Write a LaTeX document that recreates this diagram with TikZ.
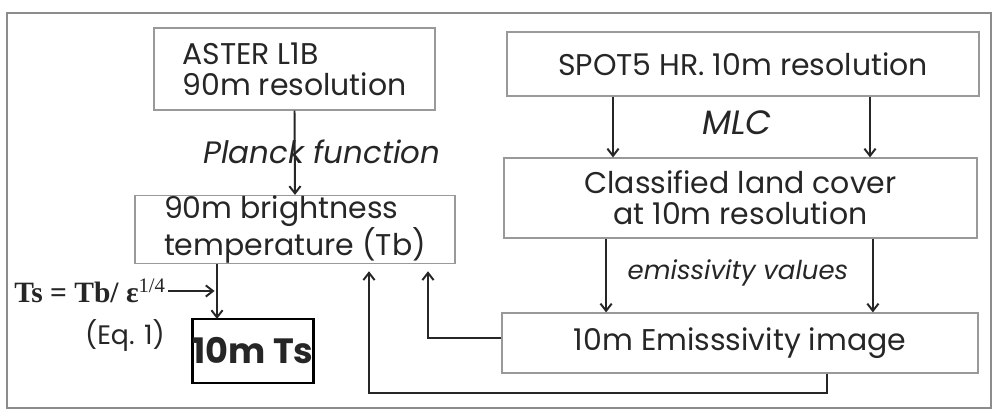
\documentclass[tikz,border=0pt]{standalone}
\usepackage{fontspec}
\setmainfont{Poppins}
\newfontfamily\serif{Liberation Serif}
\usetikzlibrary{arrows.meta}

\tikzset{
  box/.style={draw=black!40, line width=0.8pt, inner sep=0pt,
    font=\fontsize{21.3}{22}\selectfont, text=black!85},
  link/.style={draw=black!85, line width=1.4pt,
    -{Straight Barb[length=1.8mm, width=2.8mm]}},
  lbl/.style={font=\fontsize{22}{23}\selectfont\itshape, text=black!85}
}

\begin{document}
\begin{tikzpicture}[x=0.25mm, y=-0.25mm]
\useasboundingbox (0,0) rectangle (1000,418);

% Frame
\draw[black!45, line width=0.8pt] (7,13) rectangle (991,408);

% Left column
\node[box, align=left, minimum width=70.25mm, minimum height=20.5mm] (aster) at (294.5,69)
     {ASTER L1B\\90m resolution};
\node[box, align=left, minimum width=80mm, minimum height=16.75mm] (bright) at (295,229.5)
     {90m brightness\\temperature (Tb)};
\node[box, draw=black, line width=2pt, minimum width=30mm, minimum height=16mm,
      font=\fontsize{25}{26}\selectfont\bfseries] (ts) at (253,351) {10m Ts};
\node[lbl] (planck) at (322,152) {Planck function};
\coordinate (tsin) at (217,319);

\draw[link] (aster.south) -- (bright.north);
\draw[link] (bright.south -| tsin) -- (tsin);

% Equation
\node[font=\serif\fontsize{21}{22}\selectfont\bfseries, text=black!85, inner sep=0pt]
     (eq) at (90,291) {Ts = Tb/ ε\textsuperscript{\mdseries 1/4}};
\node[font=\fontsize{19}{20}\selectfont, text=black!85] (eqno) at (125,336) {(Eq. 1)};
\draw[link] ([xshift=0.5mm]eq.east) -- ([xshift=-0.6mm]eq.east -| tsin);

% Right column
\node[box, minimum width=118mm, minimum height=16mm] (spot) at (743,64)
     {SPOT5 HR. 10m resolution};
\node[box, align=center, minimum width=118.25mm, minimum height=20mm] (classif) at (740.5,198)
     {Classified land cover\\at 10m resolution};
\node[box, minimum width=119mm, minimum height=15mm] (emis) at (740,343)
     {10m Emisssivity image};
\node[lbl, font=\fontsize{24}{25}\selectfont\itshape] (mlc) at (737,123) {MLC};
\node[lbl, font=\fontsize{18.5}{19}\selectfont\itshape] (emval) at (738,273) {emissivity values};

\draw[link] ([xshift=-32.5mm]spot.south) -- ([xshift=-32.5mm]spot.south |- classif.north);
\draw[link] ([xshift=31.75mm]spot.south) -- ([xshift=31.75mm]spot.south |- classif.north);
\draw[link] ([xshift=-33.6mm]classif.south) -- ([xshift=-33.6mm]classif.south |- emis.north);
\draw[link] ([xshift=33.1mm]classif.south) -- ([xshift=33.1mm]classif.south |- emis.north);

% Feedback to Tb
\coordinate (fbB) at (369,393);
\draw[link, shorten >=1.8mm] ([yshift=1.2mm]emis.west) -| ([xshift=33.25mm]bright.south);
\draw[link, shorten >=1.8mm] ([xshift=21.75mm]emis.south) |- (fbB) -- (fbB |- bright.south);

\end{tikzpicture}
\end{document}
